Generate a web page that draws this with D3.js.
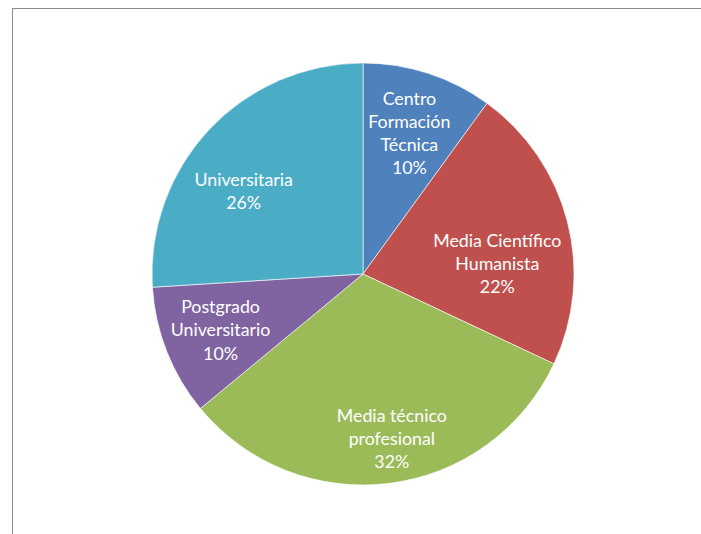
<!DOCTYPE html>
<html>
<head>
<meta charset="utf-8">
<script src="https://cdn.jsdelivr.net/npm/d3@7"></script>
<style>
  html, body { margin: 0; padding: 0; background: #ffffff; }
  svg { display: block; }
</style>
</head>
<body>
<svg id="chart" width="701" height="534"></svg>
<script>
// ---- data ----
const categories = ["Centro Formación Técnica", "Media Científico Humanista", "Media técnico profesional", "Postgrado Universitario", "Universitaria"];
const labelLines = [["Centro", "Formación", "Técnica"], ["Media Científico", "Humanista"], ["Media técnico", "profesional"], ["Postgrado", "Universitario"], ["Universitaria"]];
const values = [10, 22, 32, 10, 26];
const colors = ["#4F81BD", "#C0504D", "#9BBB59", "#8064A2", "#4BACC6"];
// label offsets from the arc centroid (layout only)
const labelNudge = [[0, 2], [-11, 27], [10, 16], [-3, 1], [-10, 20]];

const svg = d3.select("#chart");
const cx = 363, cy = 274, R = 211;

// outer frame (chart area border, extends beyond the window)
svg.append("rect")
  .attr("x", 12.5).attr("y", 8.5)
  .attr("width", 900).attr("height", 900)
  .attr("fill", "none")
  .attr("stroke", "#8a8a8a")
  .attr("stroke-width", 1);

const data = categories.map((c, i) => ({ name: c, value: values[i], lines: labelLines[i], color: colors[i], nudge: labelNudge[i] }));

const pie = d3.pie().value(d => d.value).sort(null);
const arcs = pie(data);
const arc = d3.arc().innerRadius(0).outerRadius(R);
const labelArc = d3.arc().innerRadius(150).outerRadius(150);

const g = svg.append("g").attr("transform", `translate(${cx},${cy})`);

g.selectAll("path.slice")
  .data(arcs)
  .enter().append("path")
  .attr("class", "slice")
  .attr("d", arc)
  .attr("fill", d => d.data.color)
  .attr("stroke", "#ffffff")
  .attr("stroke-opacity", 0.6)
  .attr("stroke-width", 1);

const fontSize = 17.8;
const lh = 23.2;

const labels = g.selectAll("text.lbl")
  .data(arcs)
  .enter().append("text")
  .attr("class", "lbl")
  .attr("text-anchor", "middle")
  .attr("fill", "#ffffff")
  .style("font-family", "Lato, 'Open Sans', sans-serif")
  .style("font-size", fontSize + "px");

labels.each(function(d) {
  const [x0, y0] = labelArc.centroid(d);
  const x = x0 + d.data.nudge[0];
  const y = y0 + d.data.nudge[1];
  const lines = d.data.lines.concat([Math.round(d.data.value / d3.sum(values) * 100) + "%"]);
  const n = lines.length;
  const t = d3.select(this);
  lines.forEach((ln, i) => {
    t.append("tspan")
      .attr("x", x)
      .attr("y", y + (i - (n - 1) / 2) * lh + fontSize * 0.35)
      .text(ln);
  });
});
</script>
</body>
</html>
